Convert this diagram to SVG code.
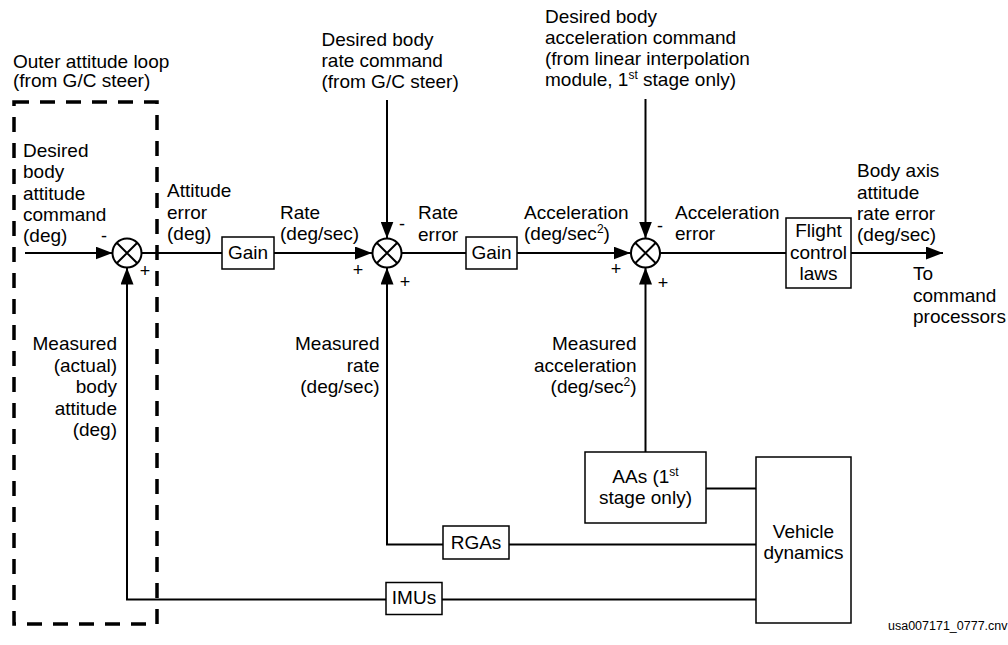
<svg xmlns="http://www.w3.org/2000/svg" width="1008" height="645" viewBox="0 0 1008 645">
<style>
text{font-family:"Liberation Sans",Arial,sans-serif;font-size:19px;fill:#000}
.sm{font-size:12px}
.sg{font-size:18px;text-anchor:middle}
.mid{text-anchor:middle}
.end{text-anchor:end}
.box{fill:#fff;stroke:#000;stroke-width:1.5}
.ln{fill:none;stroke:#000;stroke-width:2}
.sum{fill:#fff;stroke:#000;stroke-width:2}
.dash{fill:none;stroke:#000;stroke-width:3.5;stroke-dasharray:15 11}
</style>
<defs>
<marker id="ah" markerUnits="userSpaceOnUse" viewBox="0 0 17 13" refX="17" refY="6.5" markerWidth="17" markerHeight="13" orient="auto">
<path d="M0,0 L17,6.5 L0,13 z" fill="#000"/>
</marker>
</defs>
<rect width="1008" height="645" fill="#fff"/>

<g id="outer-loop-frame">
<rect class="dash" x="14" y="102" width="143" height="522"/>
<text x="13" y="67.5">Outer attitude loop</text>
<text x="13" y="86.5">(from G/C steer)</text>
</g>

<g id="connectors">
<line class="ln" x1="25" y1="253" x2="112.5" y2="253" marker-end="url(#ah)"/>
<line class="ln" x1="141.5" y1="253" x2="222" y2="253"/>
<line class="ln" x1="274" y1="253" x2="372" y2="253" marker-end="url(#ah)"/>
<line class="ln" x1="401.5" y1="253" x2="466" y2="253"/>
<line class="ln" x1="517" y1="253" x2="630.5" y2="253" marker-end="url(#ah)"/>
<line class="ln" x1="660" y1="253" x2="786" y2="253"/>
<line class="ln" x1="851" y1="253" x2="943" y2="253" marker-end="url(#ah)"/>
<line class="ln" x1="387" y1="100" x2="387" y2="238.5" marker-end="url(#ah)"/>
<line class="ln" x1="645.5" y1="99" x2="645.5" y2="238.5" marker-end="url(#ah)"/>
<polyline class="ln" points="756,599.5 442,599.5"/>
<polyline class="ln" points="386,599.5 127,599.5 127,267.5" marker-end="url(#ah)"/>
<polyline class="ln" points="756,544.5 509,544.5"/>
<polyline class="ln" points="443,544.5 387,544.5 387,267.5" marker-end="url(#ah)"/>
<line class="ln" x1="645.5" y1="452" x2="645.5" y2="267.5" marker-end="url(#ah)"/>
<line class="ln" x1="706" y1="488.5" x2="756" y2="488.5"/>
</g>

<g id="sum1">
<circle class="sum" cx="127" cy="253" r="14.5"/>
<path class="ln" d="M116.7,242.7 L137.3,263.3 M137.3,242.7 L116.7,263.3"/>
<text class="sg" x="104" y="242.4">-</text>
<text class="sg" x="145" y="276.5">+</text>
</g>

<g id="sum2">
<circle class="sum" cx="387" cy="253" r="14.5"/>
<path class="ln" d="M376.7,242.7 L397.3,263.3 M397.3,242.7 L376.7,263.3"/>
<text class="sg" x="358" y="276">+</text>
<text class="sg" x="402" y="230.4">-</text>
<text class="sg" x="405" y="288">+</text>
</g>

<g id="sum3">
<circle class="sum" cx="645.5" cy="253" r="14.5"/>
<path class="ln" d="M635.2,242.7 L655.8,263.3 M655.8,242.7 L635.2,263.3"/>
<text class="sg" x="616" y="275">+</text>
<text class="sg" x="660" y="232.4">-</text>
<text class="sg" x="663" y="289">+</text>
</g>

<g id="gain1">
<rect class="box" x="222" y="237" width="52" height="32"/>
<text class="mid" x="248" y="259">Gain</text>
</g>

<g id="gain2">
<rect class="box" x="466" y="237" width="51" height="32"/>
<text class="mid" x="491.5" y="259">Gain</text>
</g>

<g id="flight-control-laws">
<rect class="box" x="786" y="218" width="65" height="70"/>
<text class="mid" x="818.5" y="237">Flight</text>
<text class="mid" x="818.5" y="259">control</text>
<text class="mid" x="818.5" y="280">laws</text>
</g>

<g id="aas">
<rect class="box" x="585" y="452" width="121" height="71"/>
<text class="mid" x="645.5" y="483">AAs (1<tspan class="sm" dy="-7">st</tspan></text>
<text class="mid" x="645.5" y="504">stage only)</text>
</g>

<g id="rgas">
<rect class="box" x="443" y="526" width="66" height="33"/>
<text class="mid" x="476" y="548.5">RGAs</text>
</g>

<g id="imus">
<rect class="box" x="386" y="582.5" width="56" height="32"/>
<text class="mid" x="414" y="603.5">IMUs</text>
</g>

<g id="vehicle-dynamics">
<rect class="box" x="756" y="457" width="95" height="166"/>
<text class="mid" x="803.5" y="538">Vehicle</text>
<text class="mid" x="803.5" y="559">dynamics</text>
</g>

<g id="labels">
<text x="23" y="157">Desired</text>
<text x="23" y="178.3">body</text>
<text x="23" y="199.5">attitude</text>
<text x="23" y="221">command</text>
<text x="23" y="242">(deg)</text>

<text x="167" y="197">Attitude</text>
<text x="167" y="218.5">error</text>
<text x="167" y="240">(deg)</text>

<text x="280" y="218.5">Rate</text>
<text x="280" y="240">(deg/sec)</text>

<text x="321.5" y="46">Desired body</text>
<text x="321.5" y="67">rate command</text>
<text x="321.5" y="88.3">(from G/C steer)</text>

<text x="418" y="219">Rate</text>
<text x="418" y="240.5">error</text>

<text x="524" y="218.5">Acceleration</text>
<text x="524" y="240">(deg/sec<tspan class="sm" dy="-7">2</tspan><tspan dy="7">)</tspan></text>

<text x="545" y="23.3">Desired body</text>
<text x="545" y="44">acceleration command</text>
<text x="545" y="65">(from linear interpolation</text>
<text x="545" y="86">module, 1<tspan class="sm" dy="-7">st</tspan><tspan dy="7"> stage only)</tspan></text>

<text x="675" y="218.5">Acceleration</text>
<text x="675" y="240">error</text>

<text x="857" y="177">Body axis</text>
<text x="857" y="198.5">attitude</text>
<text x="857" y="220">rate error</text>
<text x="857" y="241">(deg/sec)</text>

<text x="913" y="280">To</text>
<text x="913" y="301.5">command</text>
<text x="913" y="323">processors</text>

<text class="end" x="117" y="350">Measured</text>
<text class="end" x="117" y="371.5">(actual)</text>
<text class="end" x="117" y="393">body</text>
<text class="end" x="117" y="414.5">attitude</text>
<text class="end" x="117" y="436">(deg)</text>

<text class="end" x="379.5" y="350">Measured</text>
<text class="end" x="379.5" y="371.5">rate</text>
<text class="end" x="379.5" y="393">(deg/sec)</text>

<text class="end" x="636.5" y="350">Measured</text>
<text class="end" x="636.5" y="371.5">acceleration</text>
<text class="end" x="636.5" y="393">(deg/sec<tspan class="sm" dy="-7">2</tspan><tspan dy="7">)</tspan></text>

<text x="888" y="630" style="font-size:12.5px">usa007171_0777.cnv</text>
</g>
</svg>
